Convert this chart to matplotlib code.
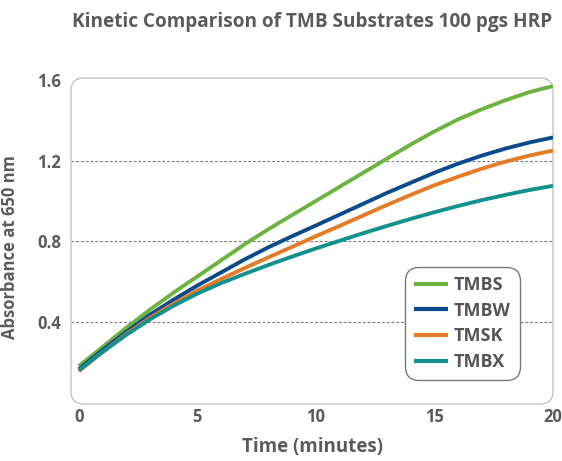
import matplotlib.pyplot as plt
from matplotlib.patches import FancyBboxPatch

# Werte (jede Minute)
time_min = list(range(21))
tmbs = [0.18, 0.275, 0.37, 0.46, 0.545, 0.625, 0.705, 0.785, 0.86, 0.93, 1.0,
        1.07, 1.14, 1.21, 1.28, 1.345, 1.405, 1.455, 1.50, 1.54, 1.57]
tmbw = [0.165, 0.26, 0.35, 0.435, 0.51, 0.58, 0.645, 0.71, 0.77, 0.825, 0.878,
        0.932, 0.986, 1.04, 1.09, 1.14, 1.185, 1.225, 1.26, 1.29, 1.315]
tmsk = [0.155, 0.25, 0.34, 0.42, 0.49, 0.555, 0.612, 0.667, 0.72, 0.772, 0.825,
        0.876, 0.928, 0.98, 1.03, 1.078, 1.12, 1.16, 1.195, 1.225, 1.25]
tmbx = [0.16, 0.25, 0.335, 0.412, 0.48, 0.54, 0.592, 0.638, 0.682, 0.724, 0.764,
        0.802, 0.84, 0.876, 0.911, 0.944, 0.975, 1.004, 1.03, 1.054, 1.075]

series_names = ["TMBS", "TMBW", "TMSK", "TMBX"]
series_colors = ["#6cb33f", "#0b4a8b", "#e37b27", "#14908f"]

y_ticks = [0.4, 0.8, 1.2, 1.6]
x_ticks = [0, 5, 10, 15, 20]

TEXT_GRAY = "#5b5b5b"
plt.rcParams["font.family"] = ["Open Sans", "DejaVu Sans"]

W, H = 562, 461
fig = plt.figure(figsize=(W / 100, H / 100), dpi=100)
ax_l, ax_r, ax_t, ax_b = 71, 553, 78, 404
ax = fig.add_axes([ax_l / W, 1 - ax_b / H, (ax_r - ax_l) / W, (ax_b - ax_t) / H])

for vals, name, col in zip([tmbs, tmbw, tmsk, tmbx], series_names, series_colors):
    ax.plot(time_min, vals, color=col, linewidth=2.8, label=name,
            solid_capstyle="butt", solid_joinstyle="round", zorder=3)

ax.set_xlim(-0.33, 20)
ax.set_ylim(-0.008, 1.61)

# gestrichelte Hilfslinien (ohne 1.6)
for yv in y_ticks[:-1]:
    ax.axhline(yv, color="#7a7a7a", linestyle=(0, (2.5, 1.8)), linewidth=0.8, zorder=1)

for s in ax.spines.values():
    s.set_visible(False)

# abgerundeter Rahmen, Radius ca. 13 px
aw, ah = ax_r - ax_l, ax_b - ax_t
frame = FancyBboxPatch((0, 0), 1, 1,
                       boxstyle=f"round,pad=0,rounding_size={13 / aw:.4f}",
                       transform=ax.transAxes, facecolor="none",
                       edgecolor="#c4c4c4", linewidth=1.0, clip_on=False,
                       mutation_aspect=aw / ah, zorder=2)
ax.add_patch(frame)

ax.set_yticks(y_ticks)
ax.set_yticklabels([f"{v:.1f}" for v in y_ticks])
ax.set_xticks(x_ticks)
ax.tick_params(length=0, labelsize=12, colors=TEXT_GRAY)
ax.tick_params(axis="y", pad=7)
ax.tick_params(axis="x", pad=3)
for lab in ax.get_xticklabels() + ax.get_yticklabels():
    lab.set_fontweight("bold")

ax.set_xlabel("Time (minutes)", fontsize=13.5, fontweight="bold", color=TEXT_GRAY, labelpad=8)
ax.set_ylabel("Absorbance at 650 nm", fontsize=12, fontweight="bold", color=TEXT_GRAY)
ax.yaxis.set_label_coords(-(ax_l - 19) / aw, 0.48)

fig.text(312.5 / W, 1 - 22 / H, "Kinetic Comparison of TMB Substrates 100 pgs HRP",
         ha="center", va="center", fontsize=13.7, fontweight="bold", color=TEXT_GRAY)

leg = ax.legend(loc="lower right", bbox_to_anchor=((520 - ax_l) / aw, (ax_b - 380) / ah),
                borderaxespad=0, frameon=True, fancybox=True, fontsize=13,
                handlelength=1.85, handletextpad=0.35, labelspacing=0.42,
                borderpad=0.5, labelcolor="#555555", framealpha=1)
leg.get_frame().set_boxstyle("round", pad=0, rounding_size=0.75)
leg.get_frame().set_edgecolor("#777777")
leg.get_frame().set_linewidth(1.0)
for t in leg.get_texts():
    t.set_fontweight("bold")
for h in leg.get_lines():
    h.set_linewidth(3.0)

fig.savefig("out.png", dpi=100)
